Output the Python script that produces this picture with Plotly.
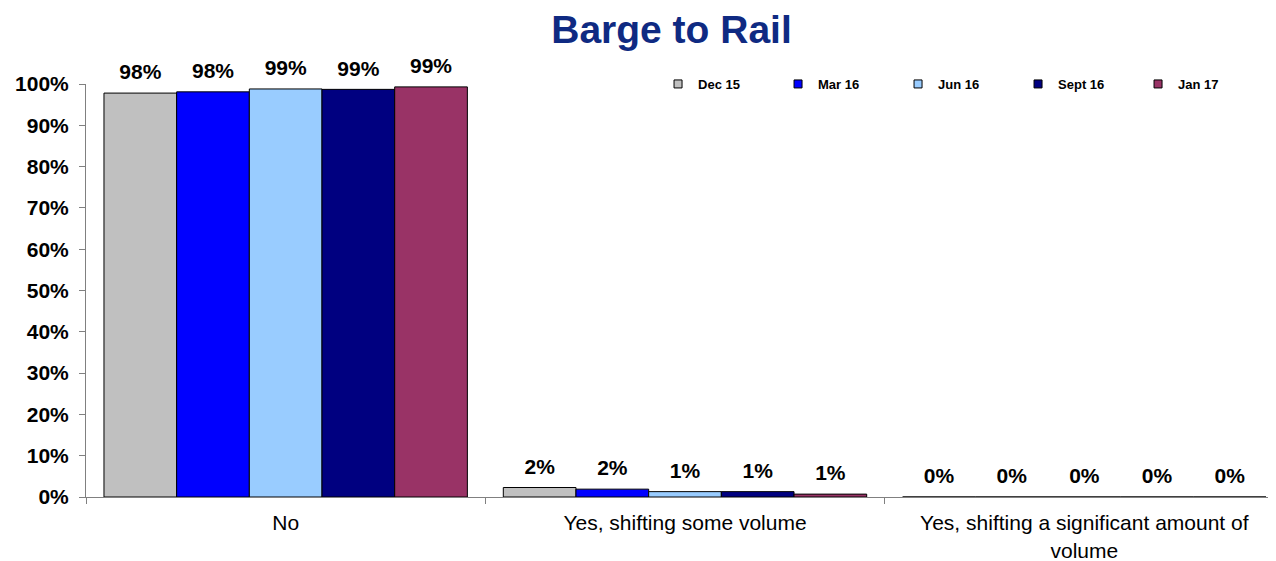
import plotly.graph_objects as go

categories = ["No", "Yes, shifting some volume", "Yes, shifting a significant amount of<br>volume"]
series_names = ["Dec 15", "Mar 16", "Jun 16", "Sept 16", "Jan 17"]
dec15 = [0.978, 0.023, 0.0]
mar16 = [0.981, 0.019, 0.0]
jun16 = [0.988, 0.013, 0.0]
sep16 = [0.987, 0.013, 0.0]
jan17 = [0.993, 0.007, 0.0]
colors = ["#C0C0C0", "#0000FF", "#99CCFF", "#000080", "#993366"]

FONT = "Liberation Sans, Arial, sans-serif"
fig = go.Figure()
all_series = [dec15, mar16, jun16, sep16, jan17]
for name, vals, col in zip(series_names, all_series, colors):
    fig.add_trace(go.Bar(
        x=categories, y=vals, name=name, showlegend=False, offsetgroup=name,
        marker=dict(color=col, line=dict(color="black", width=1)),
        hovertemplate="%{x}<br>" + name + ": %{y:.0%}<extra></extra>",
    ))
# value labels (grouped like the bars, lifted a little above each bar)
for name, vals in zip(series_names, all_series):
    fig.add_trace(go.Scatter(
        x=categories, y=vals, mode="markers+text", showlegend=False, hoverinfo="skip",
        offsetgroup=name,
        marker=dict(size=12, color="rgba(0,0,0,0)"),
        texttemplate="%{y:.0%}", textposition="top center", cliponaxis=False,
        textfont=dict(family=FONT, size=21, color="black", weight="bold"),
    ))
# legend entries (small square swatches)
for name, col in zip(series_names, colors):
    fig.add_trace(go.Scatter(
        x=[None], y=[None], mode="markers", name=name, offsetgroup=name,
        marker=dict(symbol="square", size=8, color=col, line=dict(color="black", width=1)),
    ))

fig.update_layout(
    width=1276, height=561,
    paper_bgcolor="white", plot_bgcolor="white",
    barmode="group", bargap=0.09, bargroupgap=0,
    scattermode="group", scattergap=0.09,
    margin=dict(l=78, r=0, t=76, b=72),
    title=dict(text="Barge to Rail", x=0.52, xanchor="center", y=0.962, yanchor="middle",
               font=dict(family=FONT, size=39, color="#0F2A82", weight="bold")),
    font=dict(family=FONT, color="black"),
    legend=dict(orientation="h", x=0.4775, y=1.0, xanchor="left", yanchor="middle",
                entrywidth=75, entrywidthmode="pixels", bgcolor="rgba(0,0,0,0)",
                font=dict(family=FONT, size=13, color="black", weight="bold"), itemwidth=30,
                traceorder="normal"),
    showlegend=True,
)
fig.update_xaxes(range=[-0.5, 2.5], showline=True, linecolor="#808080", linewidth=1,
                 ticks="outside", tickson="boundaries", ticklen=6, tickcolor="#808080",
                 tickfont=dict(family=FONT, size=21, color="black"), showgrid=False,
                 ticklabelstandoff=7, automargin=False)
fig.update_yaxes(range=[0, 1], tickformat=".0%", dtick=0.1, showline=True, linecolor="#808080",
                 linewidth=1, ticks="outside", ticklen=6, tickcolor="#808080", showgrid=False,
                 zeroline=False, automargin=False, ticklabelstandoff=6,
                 tickfont=dict(family=FONT, size=21, color="black", weight="bold"))

fig.write_html("out.html")
